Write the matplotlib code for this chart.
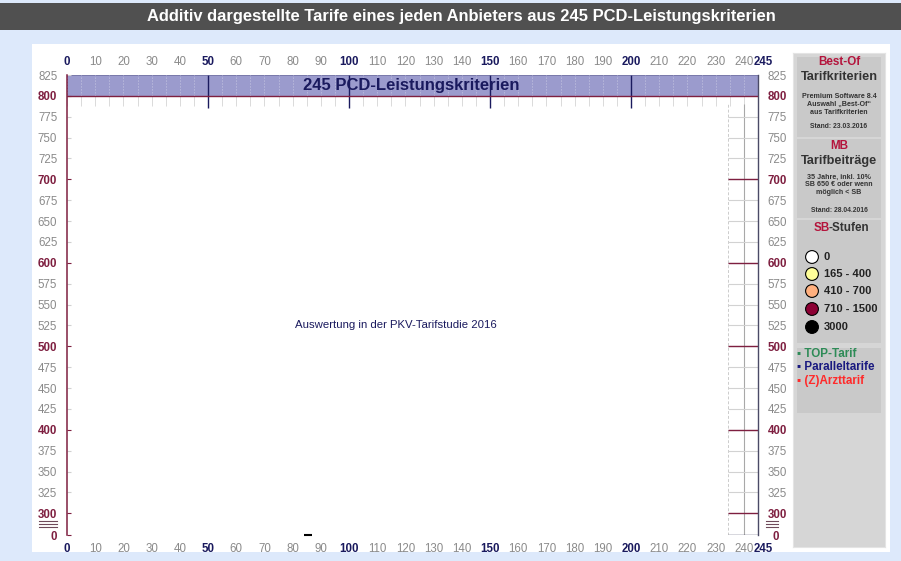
import numpy as np
import matplotlib.pyplot as plt
from matplotlib.patches import Rectangle
from matplotlib.transforms import ScaledTranslation

plt.rcParams["font.family"] = ["Liberation Sans", "DejaVu Sans"]

W, H = 901, 561

# --- data -------------------------------------------------------------
x_ticks = list(range(0, 241, 10)) + [245]
x_major = [0, 50, 100, 150, 200, 245]
y_ticks = [0] + list(range(300, 826, 25))
y_major = [0, 300, 400, 500, 600, 700, 800]
criteria_lines = list(range(0, 246, 5))
criteria_major = [50, 100, 150, 200]
right_levels = list(range(325, 800, 25))
right_red = [300, 400, 500, 600, 700]
band_lo, band_hi = 800, 825
break_at = 300
stray_x = [85.5]
stray_y = [0]

title = "Additiv dargestellte Tarife eines jeden Anbieters aus 245 PCD-Leistungskriterien"
band_label = "245 PCD-Leistungskriterien"
center_label = "Auswertung in der PKV-Tarifstudie 2016"

sb_labels = ["0", "165 - 400", "410 - 700", "710 - 1500", "3000"]
sb_colors = ["#ffffff", "#ffff99", "#ffb07f", "#8c0034", "#000000"]
tarif_labels = ["TOP-Tarif", "Paralleltarife", "(Z)Arzttarif"]
tarif_colors = ["#2e8b57", "#1a1a80", "#ff2a2a"]

NAVY = "#1a1a5e"
MAROON = "#7e1f40"
GRAY = "#8a8a8a"
CRIMSON = "#b4143c"
DARK = "#333333"


def fx(px):
    return px / W


def fy(py):
    return 1 - py / H


fig = plt.figure(figsize=(9.01, 5.61), dpi=100, facecolor="#dde9fb")

# title bar + white panel (behind the axes)
fig.patches.append(Rectangle((0, fy(30)), 1, 27 / H, transform=fig.transFigure,
                             facecolor="#505050", edgecolor="none", zorder=-5))
fig.patches.append(Rectangle((fx(32), fy(552)), fx(890) - fx(32), (552 - 44) / H,
                             transform=fig.transFigure, facecolor="white",
                             edgecolor="none", zorder=-5))
fig.text(fx(461), fy(16), title, color="white", fontsize=11.9, fontweight="bold",
         ha="center", va="center")

# --- main axes ---------------------------------------------------------
ax = fig.add_axes([fx(67), fy(535), fx(758) - fx(67), (535 - 75) / H])
ax.set_facecolor("none")

K = 26 / 300


def fwd(y):
    y = np.asarray(y, float)
    return np.where(y >= break_at, y, break_at - (break_at - y) * K)


def inv(t):
    t = np.asarray(t, float)
    return np.where(t >= break_at, t, break_at - (break_at - t) / K)


ax.set_yscale("function", functions=(fwd, inv))
ax.set_xlim(0, 245)
ax.set_ylim(0, 825)

# band of criteria
ax.axhspan(band_lo, band_hi, facecolor="#9b9bcd", edgecolor="#6a6aa0", lw=0.6, zorder=1)
ax.vlines(criteria_lines, band_lo, band_hi, color="#babadc", lw=0.6,
          linestyles=(0, (2, 1.5)), zorder=2)
ax.vlines(criteria_lines, 788, band_lo, color="#d4d4d4", lw=0.6, zorder=2)
ax.vlines(criteria_major, 786, band_hi, color=NAVY, lw=1, zorder=3)
ax.axhline(800, color=MAROON, lw=1, zorder=3)
ax.text(122, 812.5, band_label, color=NAVY, fontsize=12, fontweight="bold",
        ha="center", va="center", zorder=4)
ax.text(116.5, 525, center_label, color=NAVY, fontsize=8.2, ha="center", va="center")

# right-hand scale strip
ax.vlines([234.5], 0, 790, color="#cccccc", lw=0.7, linestyles=(0, (3, 2)))
ax.vlines([240], 0, 790, color="#a8a8a8", lw=0.8)
ax.hlines(right_levels, 234.5, 245, color="#d2d2d2", lw=0.8)
ax.hlines(right_red, 234.5, 245, color=MAROON, lw=1)
ax.hlines([0], 234.5, 245, color="#3a3a5a", lw=1)

ax.plot(stray_x, stray_y, marker="_", ms=6, mew=1.5, color="black", ls="none",
        clip_on=False)

# spines
for s in ("top", "bottom"):
    ax.spines[s].set_visible(False)
ax.spines["left"].set_color(MAROON)
ax.spines["left"].set_linewidth(1.1)
ax.spines["right"].set_color("#4a4a66")
ax.spines["right"].set_linewidth(1)

# y ticks
ax.set_yticks(y_ticks)
ax.yaxis.set_minor_locator(plt.NullLocator())
ax.set_yticklabels([str(v) for v in y_ticks])
ax.tick_params(axis="y", left=True, right=False, labelleft=True, labelright=True,
               direction="in", length=3, width=0.8, pad=7, labelsize=8.3)
for val, tick in zip(y_ticks, ax.yaxis.get_major_ticks()):
    major = val in y_major
    col = MAROON if major else GRAY
    for lab in (tick.label1, tick.label2):
        lab.set_color(col)
        lab.set_fontweight("bold" if major else "normal")
    tick.tick1line.set_markeredgecolor(MAROON if major else "#d0d0d0")
    if val == 0:
        tick.label2.set_transform(tick.label2.get_transform() +
                                  ScaledTranslation(0.045, 0, fig.dpi_scale_trans))

# x ticks, bottom and top
ax.set_xticks(x_ticks)
ax.xaxis.set_minor_locator(plt.NullLocator())
ax.tick_params(axis="x", length=0, pad=6, labelsize=8.3)
secax = ax.secondary_xaxis("top")
secax.set_xticks(x_ticks)
secax.spines["top"].set_visible(False)
secax.tick_params(axis="x", length=0, pad=5, labelsize=8.3)
for axis in (ax.xaxis, secax.xaxis):
    for val, tick in zip(x_ticks, axis.get_major_ticks()):
        major = val in x_major
        for lab in (tick.label1, tick.label2):
            lab.set_color(NAVY if major else GRAY)
            lab.set_fontweight("bold" if major else "normal")
            if val == 245:
                lab.set_transform(lab.get_transform() +
                                  ScaledTranslation(0.05, 0, fig.dpi_scale_trans))

# axis break marks
for xs in ((39, 57), (766, 778)):
    for yy in (521, 524, 527):
        fig.add_artist(plt.Line2D([fx(xs[0]), fx(xs[1])], [fy(yy), fy(yy)],
                                  transform=fig.transFigure, color="#6e4a5a", lw=0.8))

# --- side panel --------------------------------------------------------
pa = fig.add_axes([fx(793), fy(547), fx(885) - fx(793), (547 - 53) / H])
pa.set_xlim(793, 885)
pa.set_ylim(547, 53)
pa.set_facecolor("#d6d6d6")
pa.set_xticks([])
pa.set_yticks([])
for s in pa.spines.values():
    s.set_color("#e4e4e4")

for y0, y1 in ((57, 137), (139, 218), (220, 343), (348, 413)):
    pa.add_patch(Rectangle((797, y0), 84, y1 - y0, facecolor="#c9c9c9",
                           edgecolor="none"))

cx = 839
pa.text(cx, 62, "Best-Of", color=CRIMSON, fontsize=8.4, fontweight="bold",
        ha="center", va="center")
pa.text(cx, 77, "Tarifkriterien", color=DARK, fontsize=9.2, fontweight="bold",
        ha="center", va="center")
pa.text(cx, 104, "Premium Software 8.4\nAuswahl \u201eBest-Of\u201c\naus Tarifkriterien",
        color=DARK, fontsize=5.1, fontweight="bold", ha="center", va="center",
        linespacing=1.2)
pa.text(cx, 127, "Stand: 23.03.2016", color=DARK, fontsize=4.9, fontweight="bold",
        ha="center", va="center")
pa.text(cx, 146, "MB", color=CRIMSON, fontsize=8.4, fontweight="bold",
        ha="center", va="center")
pa.text(cx, 161, "Tarifbeitr\u00e4ge", color=DARK, fontsize=9.2, fontweight="bold",
        ha="center", va="center")
pa.text(cx, 185, "35 Jahre, inkl. 10%\nSB 650 \u20ac oder wenn\nm\u00f6glich < SB",
        color=DARK, fontsize=5.1, fontweight="bold", ha="center", va="center",
        linespacing=1.2)
pa.text(cx, 210, "Stand: 28.04.2016", color=DARK, fontsize=4.9, fontweight="bold",
        ha="center", va="center")
pa.text(cx - 17, 228, "SB", color=CRIMSON, fontsize=8.4, fontweight="bold",
        ha="center", va="center")
pa.text(cx - 10.2, 228, "-Stufen", color=DARK, fontsize=8.4, fontweight="bold",
        ha="left", va="center")

sb_y = [257, 274, 291, 309, 327]
pa.scatter([812] * len(sb_labels), sb_y, s=85, c=sb_colors, edgecolors="black",
           linewidths=0.8, zorder=3)
for lab, yy in zip(sb_labels, sb_y):
    pa.text(824, yy, lab, color="#222222", fontsize=8, fontweight="bold",
            ha="left", va="center")

for i, (lab, col) in enumerate(zip(tarif_labels, tarif_colors)):
    pa.text(797, 354 + i * 13.3, "\u25aa " + lab, color=col, fontsize=8.4,
            fontweight="bold", ha="left", va="center")

fig.savefig("out.png", dpi=100, facecolor=fig.get_facecolor())
